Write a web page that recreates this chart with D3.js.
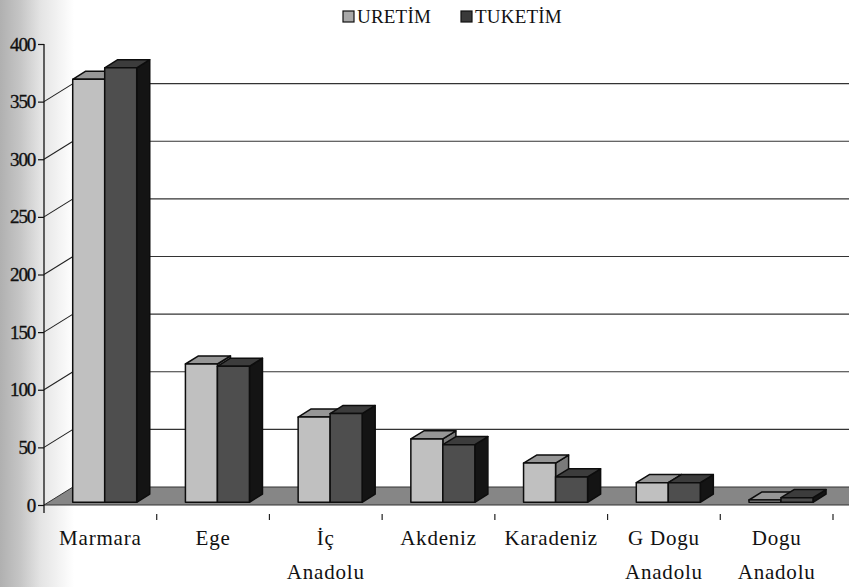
<!DOCTYPE html>
<html>
<head>
<meta charset="utf-8">
<script src="https://cdn.jsdelivr.net/npm/d3@7"></script>
<style>
  html, body { margin: 0; padding: 0; background: #fff; }
  svg { display: block; }
</style>
</head>
<body>
<svg id="chart" width="849" height="587"></svg>
<script>
// Regional production / consumption figures
const categories = ["Marmara", "Ege", "İç Anadolu", "Akdeniz", "Karadeniz", "G Dogu Anadolu", "Dogu Anadolu"];
const seriesNames = ["URETİM", "TUKETİM"];
const uretim  = [367, 120, 74, 55, 34, 17, 2];
const tuketim = [377, 118, 77, 50, 22, 17, 4];
const yTicks = [0, 50, 100, 150, 200, 250, 300, 350, 400];

const FONT = "'Liberation Serif', 'Times New Roman', serif";
const svg = d3.select("#chart");
const W = 849, H = 587;

// 3D frame geometry
const left = 44, right = 833, floorY = 505, topY = 44;
const depthX = 29, depthY = -18;      // offset from front plane to back wall
const barT0 = 0.15, barT1 = 0.6;       // bar depth span (fraction of full depth)

const y = d3.scaleLinear().domain([0, 400]).range([floorY, topY]);
const x = d3.scaleBand().domain(categories).range([left, right]).padding(0);
const bw = x.bandwidth();
const xs = d3.scaleBand().domain(seriesNames).range([bw / 2 - 32, bw / 2 + 32]).padding(0);

const P = (px, v, t) => [px + t * depthX, y(v) + t * depthY];

// soft grey shading along the left margin
const defs = svg.append("defs");
const grad = defs.append("linearGradient").attr("id", "leftShade")
  .attr("x1", 0).attr("x2", 1).attr("y1", 0).attr("y2", 0);
grad.append("stop").attr("offset", 0).attr("stop-color", "#b0b0b0");
grad.append("stop").attr("offset", 0.28).attr("stop-color", "#c6c6c6");
grad.append("stop").attr("offset", 0.55).attr("stop-color", "#e4e4e4");
grad.append("stop").attr("offset", 1).attr("stop-color", "#ffffff");
svg.append("rect").attr("x", 0).attr("y", 0).attr("width", 74).attr("height", H)
  .attr("fill", "url(#leftShade)");

// back-wall gridlines
const gridVals = yTicks.filter(v => v > 0 && v < 400);
svg.append("g").selectAll("line").data(gridVals).join("line")
  .attr("x1", left + depthX).attr("x2", W + 20)
  .attr("y1", d => y(d) + depthY).attr("y2", d => y(d) + depthY)
  .attr("stroke", "#333").attr("stroke-width", 1.2);

// diagonal connectors from the axis to the back wall
svg.append("g").selectAll("line").data(gridVals).join("line")
  .attr("x1", left).attr("y1", d => y(d))
  .attr("x2", left + depthX).attr("y2", d => y(d) + depthY)
  .attr("stroke", "#222").attr("stroke-width", 1.1);

// floor
const floorPts = [P(left, 0, 0), P(left, 0, 1), P(right + 40, 0, 1), P(right + 40, 0, 0)];
svg.append("polygon").attr("points", floorPts.map(p => p.join(",")).join(" "))
  .attr("fill", "#868686").attr("stroke", "#333").attr("stroke-width", 1);

// value axis
const yAxis = d3.axisLeft(y).tickValues(yTicks).tickSize(6).tickSizeOuter(0).tickPadding(3);
const gAxis = svg.append("g").attr("transform", `translate(${left},0)`).call(yAxis)
  .attr("font-family", FONT);
gAxis.select(".domain").remove();
gAxis.selectAll(".tick line").attr("stroke", "#111").attr("stroke-width", 1.2);
gAxis.selectAll(".tick text")
  .attr("font-family", FONT).style("font-family", FONT).style("font-size", "19px")
  .attr("letter-spacing", "-1.2px").attr("fill", "#111")
  .attr("stroke", "#111").attr("stroke-width", 0.35);
svg.append("line").attr("x1", left).attr("x2", left).attr("y1", topY).attr("y2", floorY + 8)
  .attr("stroke", "#111").attr("stroke-width", 1.3);

// category tick marks below the floor
const bounds = categories.map(c => x(c) + bw);
svg.append("g").selectAll("line").data(bounds).join("line")
  .attr("x1", d => d).attr("x2", d => d).attr("y1", floorY + 9).attr("y2", floorY + 15)
  .attr("stroke", "#222").attr("stroke-width", 1.2);

// 3D bars
const styles = {
  "URETİM":  { front: "#c0c0c0", top: "#969696", side: "#7a7a7a" },
  "TUKETİM": { front: "#4e4e4e", top: "#3c3c3c", side: "#141414" }
};
const rows = categories.map((c, i) => ({ cat: c, vals: [uretim[i], tuketim[i]] }));
const gBars = svg.append("g");
rows.forEach(r => {
  seriesNames.forEach((s, j) => {
    const v = r.vals[j];
    const xl = x(r.cat) + xs(s), xr = xl + xs.bandwidth();
    const st = styles[s];
    const faces = [
      { pts: [P(xr, 0, barT0), P(xr, 0, barT1), P(xr, v, barT1), P(xr, v, barT0)], fill: st.side },
      { pts: [P(xl, v, barT0), P(xr, v, barT0), P(xr, v, barT1), P(xl, v, barT1)], fill: st.top },
      { pts: [P(xl, 0, barT0), P(xr, 0, barT0), P(xr, v, barT0), P(xl, v, barT0)], fill: st.front }
    ];
    gBars.selectAll(null).data(faces).join("polygon")
      .attr("points", d => d.pts.map(p => p.join(",")).join(" "))
      .attr("fill", d => d.fill)
      .attr("stroke", "#0d0d0d").attr("stroke-width", 1.5).attr("stroke-linejoin", "round");
  });
});

// category labels (two lines where the name ends with "Anadolu")
const labelLines = c => c.endsWith(" Anadolu") ? [c.replace(/ Anadolu$/, ""), "Anadolu"] : [c];
const gLab = svg.append("g");
categories.forEach(c => {
  const t = gLab.append("text").attr("text-anchor", "middle")
    .attr("x", x(c) + bw / 2).attr("y", 545)
    .attr("font-family", FONT).style("font-family", FONT)
    .style("font-size", "21px").attr("letter-spacing", "0.8px").attr("fill", "#111");
  labelLines(c).forEach((ln, k) => {
    t.append("tspan").attr("x", x(c) + bw / 2).attr("y", 545 + k * 34).text(ln);
  });
});

// legend
const legendX = [343, 461];
const gLeg = svg.append("g");
seriesNames.forEach((s, j) => {
  gLeg.append("rect").attr("x", legendX[j]).attr("y", 11).attr("width", 11).attr("height", 11)
    .attr("fill", j === 0 ? "#a8a8a8" : "#3a3a3a").attr("stroke", "#111").attr("stroke-width", 1.2);
  gLeg.append("text").attr("x", legendX[j] + 14).attr("y", 23)
    .attr("font-family", FONT).style("font-family", FONT)
    .style("font-size", "19px").attr("letter-spacing", "0.2px").attr("fill", "#111").text(s);
});
</script>
</body>
</html>
